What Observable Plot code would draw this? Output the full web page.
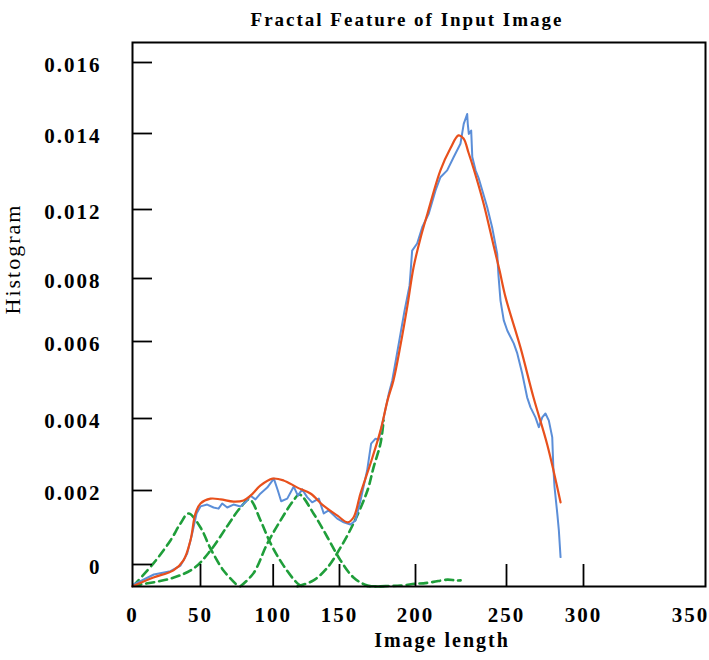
<!DOCTYPE html>
<html>
<head>
<meta charset="utf-8">
<script src="https://cdn.jsdelivr.net/npm/d3@7"></script>
<script src="https://cdn.jsdelivr.net/npm/@observablehq/plot@0.6"></script>
<style>
  html, body { margin: 0; padding: 0; background: #fff; }
  #chart svg { display: block; }
</style>
</head>
<body>
<div id="chart"></div>
<script>
// ---- tick values and labels (as printed on the chart) ----
const xTicks = [0, 50, 100, 150, 200, 250, 300, 350];
const yTicks = [0, 0.002, 0.004, 0.006, 0.008, 0.012, 0.014, 0.016];
const yTickLabels = ["0", "0.002", "0.004", "0.006", "0.008", "0.012", "0.014", "0.016"];

// ---- observed histogram (blue) [x, y] ----
const observed = [
  [0, -0.00059], [1.0, -0.00054], [15.7, -0.00027], [27.9, -0.00018], [35.3, -0.00003],
  [40.2, 0.00030], [43.9, 0.00084], [47.1, 0.00138], [50, 0.00157], [54.6, 0.00162],
  [59.0, 0.00154], [62.4, 0.00151], [64.9, 0.00165], [68.4, 0.00154], [72.7, 0.00162],
  [77.5, 0.00157], [80.9, 0.00168], [84.4, 0.00186], [87.8, 0.00176], [91.3, 0.00192],
  [95.9, 0.00208], [100.5, 0.00233], [103.5, 0.00200], [106.0, 0.00171], [110.6, 0.00178],
  [115.5, 0.00211], [118.6, 0.00186], [121.9, 0.00203], [125.6, 0.00182], [129.4, 0.00168],
  [134.4, 0.00178], [138.1, 0.00138], [141.9, 0.00146], [148.3, 0.00124], [152.8, 0.00114],
  [157.2, 0.00108], [160.5, 0.00119], [163.8, 0.00173], [168.2, 0.00256], [170.8, 0.00330],
  [173.7, 0.00344], [175.8, 0.00341], [179.1, 0.00403], [182.4, 0.00464], [184.7, 0.00499],
  [188.2, 0.00577], [192.8, 0.00698], [196.1, 0.00778], [196.7, 0.00829], [197.8, 0.00962],
  [200.9, 0.01003], [203.7, 0.01097], [207.3, 0.01177], [211.0, 0.01250], [213.7, 0.01285],
  [217.4, 0.01303], [221.0, 0.01338], [224.7, 0.01373], [226.5, 0.01427], [228.4, 0.01455],
  [228.7, 0.01428], [229.3, 0.01399], [230.6, 0.01408], [231.2, 0.01338], [233.0, 0.01303],
  [234.8, 0.01281], [236.7, 0.01250], [239.4, 0.01206], [242.1, 0.01097], [244.9, 0.00943],
  [245.6, 0.00817], [246.7, 0.00730], [248.5, 0.00667], [250.5, 0.00635], [254.7, 0.00595],
  [257.0, 0.00569], [260.2, 0.00517], [263.4, 0.00455], [265.6, 0.00429], [268.8, 0.00403],
  [271.0, 0.00376], [273.2, 0.00403], [275.3, 0.00413], [277.5, 0.00394], [279.7, 0.00348],
  [280.4, 0.00265], [281.2, 0.00209], [283.0, 0.00137], [284.0, 0.00092], [285.1, 0.00020]
];

// ---- fitted mixture (red) [x, y] ----
const fitted = [
  [0, -0.00059], [15.4, -0.00035], [30.1, -0.00016], [37.5, 0.00011], [42.6, 0.00065],
  [46.3, 0.00138], [50, 0.00165], [56.9, 0.00178], [63.8, 0.00176], [72.7, 0.00170],
  [79.6, 0.00173], [84.4, 0.00186], [91.3, 0.00214], [99.5, 0.00233], [107.8, 0.00228],
  [118.3, 0.00208], [128.1, 0.00192], [137.9, 0.00159], [148.5, 0.00132], [155.3, 0.00114],
  [159.2, 0.00127], [163.8, 0.00192], [170.4, 0.00275], [177.0, 0.00367], [181.6, 0.00447],
  [185.5, 0.00499], [190.1, 0.00590], [194.7, 0.00714], [198.7, 0.00864], [202.7, 0.01032],
  [206.6, 0.01177], [213.7, 0.01303], [219.2, 0.01361], [223.6, 0.01395], [226.4, 0.01387],
  [229.1, 0.01350], [231.9, 0.01308], [237.4, 0.01216], [242.9, 0.00991], [246.2, 0.00846],
  [249.5, 0.00740], [259.1, 0.00584], [267.5, 0.00455], [276.6, 0.00325], [285.1, 0.00168]
];

// ---- mixture components (green dashed) [x, y] ----
const component1 = [
  [0.7, -0.00057], [15.4, 0.00003], [27.9, 0.00065], [35.3, 0.00111], [41.2, 0.00138],
  [50, 0.00100], [56.9, 0.00043], [65.8, -0.00016], [75.4, -0.00057]
];
const component2 = [
  [0.7, -0.00057], [27.9, -0.00038], [44.8, -0.00011], [56.9, 0.00038], [68.6, 0.00105],
  [77.5, 0.00154], [83.7, 0.00176], [91.3, 0.00119], [98.2, 0.00057], [107.8, -0.00003],
  [118.3, -0.00051], [122.1, -0.00059]
];
const component3 = [
  [77.5, -0.00059], [86.4, -0.00024], [96.0, 0.00057], [105.5, 0.00119], [115.3, 0.00173],
  [119.8, 0.00189], [130.4, 0.00138], [141.0, 0.00073], [150.7, 0.00011], [159.2, -0.00035],
  [168.4, -0.00057], [178.9, -0.00059]
];
const component4 = [
  [118.3, -0.00059], [130.4, -0.00043], [141.0, -0.00008], [150.7, 0.00046], [159.2, 0.00111],
  [168.4, 0.00200], [172.4, 0.00264], [177.0, 0.00331], [179.0, 0.00394]
];
const component5 = [
  [168.4, -0.00059], [190.1, -0.00057], [200, -0.00052], [204.4, -0.00051], [209.9, -0.00047],
  [217.6, -0.00041], [222.0, -0.00043], [224.8, -0.00043]
];
const components = [component1, component2, component3, component4, component5];

const green = "#1f9e3a";
const dashed = {stroke: green, strokeWidth: 2.6, strokeDasharray: "8,5", curve: "catmull-rom"};

const plot = Plot.plot({
  width: 709,
  height: 660,
  marginLeft: 132,
  marginRight: 4,
  marginTop: 42,
  marginBottom: 74,
  style: {fontFamily: "'Liberation Serif', 'Times New Roman', serif", fontSize: "21px", color: "#000", letterSpacing: "2px", background: "#fff"},
  x: {
    type: "linear",
    domain: [0, 50, 100, 150, 200, 250, 300, 350, 357],
    range: [132, 200, 272.7, 339, 415, 506, 583, 690, 705]
  },
  y: {
    type: "linear",
    domain: [-0.000595, 0, 0.002, 0.004, 0.006, 0.008, 0.012, 0.014, 0.016, 0.01656],
    range: [586, 564, 490, 418, 341, 278, 209, 133, 62, 42]
  },
  marks: [
    ...components.map(c => Plot.line(c, {x: d => d[0], y: d => d[1], ...dashed})),
    Plot.line(observed, {x: d => d[0], y: d => d[1], stroke: "#5b8ed8", strokeWidth: 2}),
    Plot.line(fitted, {x: d => d[0], y: d => d[1], stroke: "#e8501c", strokeWidth: 2.2, curve: "catmull-rom"}),
    Plot.frame({stroke: "#000", strokeWidth: 2}),
    Plot.tickY(yTicks, {y: d => d, insetRight: 553, stroke: "#000", strokeWidth: 1.8}),
    Plot.tickX(xTicks.filter(d => d > 0 && d < 350), {x: d => d, insetTop: 522, stroke: "#000", strokeWidth: 1.8}),
    Plot.axisY({ticks: yTicks, tickSize: 0, tickPadding: 31, dy: 3, tickFormat: d => yTickLabels[yTicks.indexOf(d)], fontWeight: "bold", fontSize: 21, label: null}),
    Plot.axisX({ticks: xTicks, tickSize: 0, tickPadding: 21, tickFormat: d => String(d), fontWeight: "bold", fontSize: 21, label: null}),
    Plot.text(["Fractal Feature of Input Image"], {frameAnchor: "top", dx: -12, dy: -30, fontSize: 19, fontWeight: "bold", text: d => d}),
    Plot.text(["Image length"], {frameAnchor: "bottom", dx: 23, dy: 60, fontSize: 20, fontWeight: "bold", text: d => d}),
    Plot.text(["Histogram"], {frameAnchor: "left", dx: -120, rotate: -90, fontSize: 22, text: d => d})
  ]
});
document.getElementById("chart").appendChild(plot);
</script>
</body>
</html>
